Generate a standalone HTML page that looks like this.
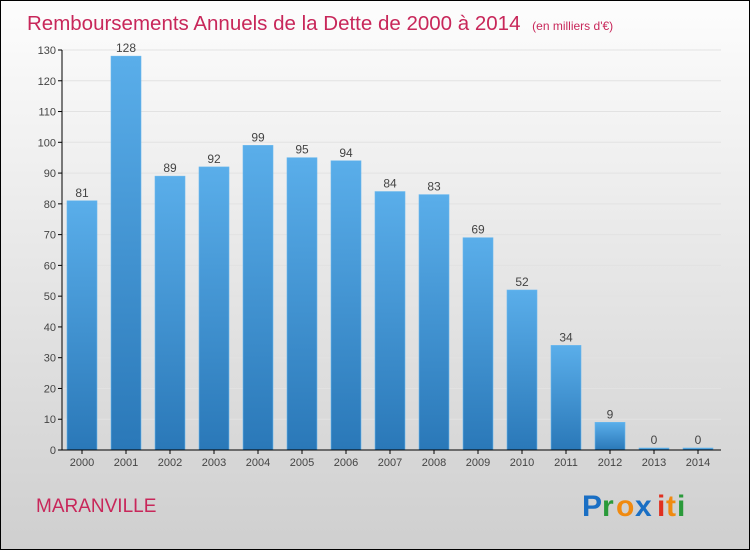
<!DOCTYPE html>
<html><head><meta charset="utf-8"><style>
body{margin:0;width:750px;height:550px;overflow:hidden}
svg{display:block;font-family:"Liberation Sans",sans-serif}
</style></head><body>
<svg width="750" height="550">
<defs>
<linearGradient id="bg" x1="0" y1="0" x2="0" y2="1"><stop offset="0" stop-color="#fdfdfd"/><stop offset="1" stop-color="#cfcfcf"/></linearGradient>
<linearGradient id="bar" x1="0" y1="0" x2="0" y2="1"><stop offset="0" stop-color="#5aaeea"/><stop offset="1" stop-color="#2a78b8"/></linearGradient>
</defs>
<rect x="0.5" y="0.5" width="749" height="549" fill="url(#bg)" stroke="#000"/>
<text x="27" y="30" font-size="20.5" fill="#c8275a">Remboursements Annuels de la Dette de 2000 à 2014 <tspan font-size="12" dx="6">(en milliers d'€)</tspan></text>
<g id="grid"></g><g id="bars"></g><g id="axes"></g>
<text x="36" y="512" font-size="19" fill="#c8275a">MARANVILLE</text>
<g font-size="30" font-weight="bold">
<text x="582" y="516" fill="#1a6fc4">P</text><text x="602" y="516" fill="#2a9a3a">r</text><text x="616" y="516" fill="#f08a10">o</text><text x="635" y="516" fill="#1a6fc4">x</text><text x="657" y="516" fill="#e03020">i</text><text x="666" y="516" fill="#f08a10">t</text><text x="677" y="516" fill="#2a9a3a">i</text>
</g>
</svg>
<script>
const categories=["2000","2001","2002","2003","2004","2005","2006","2007","2008","2009","2010","2011","2012","2013","2014"];
const values=[81,128,89,92,99,95,94,84,83,69,52,34,9,0,0];
const yTicks=[0,10,20,30,40,50,60,70,80,90,100,110,120,130];
const NS="http://www.w3.org/2000/svg";
const y0=450,yTop=50,yMax=130,x0=62,x1=721;
const y=v=>y0-(v/yMax)*(y0-yTop);
const step=44;
const cx=i=>x0+20+step*i;
function mk(t,a,p){const e=document.createElementNS(NS,t);for(const k in a)e.setAttribute(k,a[k]);p.appendChild(e);return e;}
const grid=document.getElementById('grid'),bars=document.getElementById('bars'),axes=document.getElementById('axes');
yTicks.forEach(v=>{
 const g=mk('line',{x1:x0,x2:x1,y1:y(v),y2:y(v),stroke:'#e2e2e2','stroke-width':1},grid);
 
 
 const tk=mk('line',{x1:x0-4,x2:x0,y1:y(v),y2:y(v),stroke:'#000'},axes);
 
 
 const t=mk('text',{x:x0-6,y:y(v)+4,'text-anchor':'end','font-size':11,fill:'#444'},axes);
 t.textContent=v;
 
 
});
categories.forEach((c,i)=>{
 const v=values[i],w=30,top=y(v);
 const r=mk('rect',{x:cx(i)-w/2,y:Math.min(top,y0-2),width:w,height:Math.max(y0-top,2),fill:'url(#bar)',stroke:'#6ab8ee','stroke-width':0.6},bars);
 
 
 const l=mk('text',{x:cx(i),y:Math.min(top,y0-2)-4,'text-anchor':'middle','font-size':12,fill:'#444'},bars);
 l.textContent=v;
 
 
 const tk=mk('line',{x1:cx(i),x2:cx(i),y1:y0,y2:y0+4,stroke:'#000'},axes);
 
 
 const t=mk('text',{x:cx(i),y:y0+16,'text-anchor':'middle','font-size':11,fill:'#444'},axes);
 t.textContent=c;
 
 
});
const ya=mk('line',{x1:x0,x2:x0,y1:yTop,y2:y0,stroke:'#000'},axes);


const xa=mk('line',{x1:x0,x2:x1,y1:y0,y2:y0,stroke:'#000'},axes);


</script>
</body></html>
